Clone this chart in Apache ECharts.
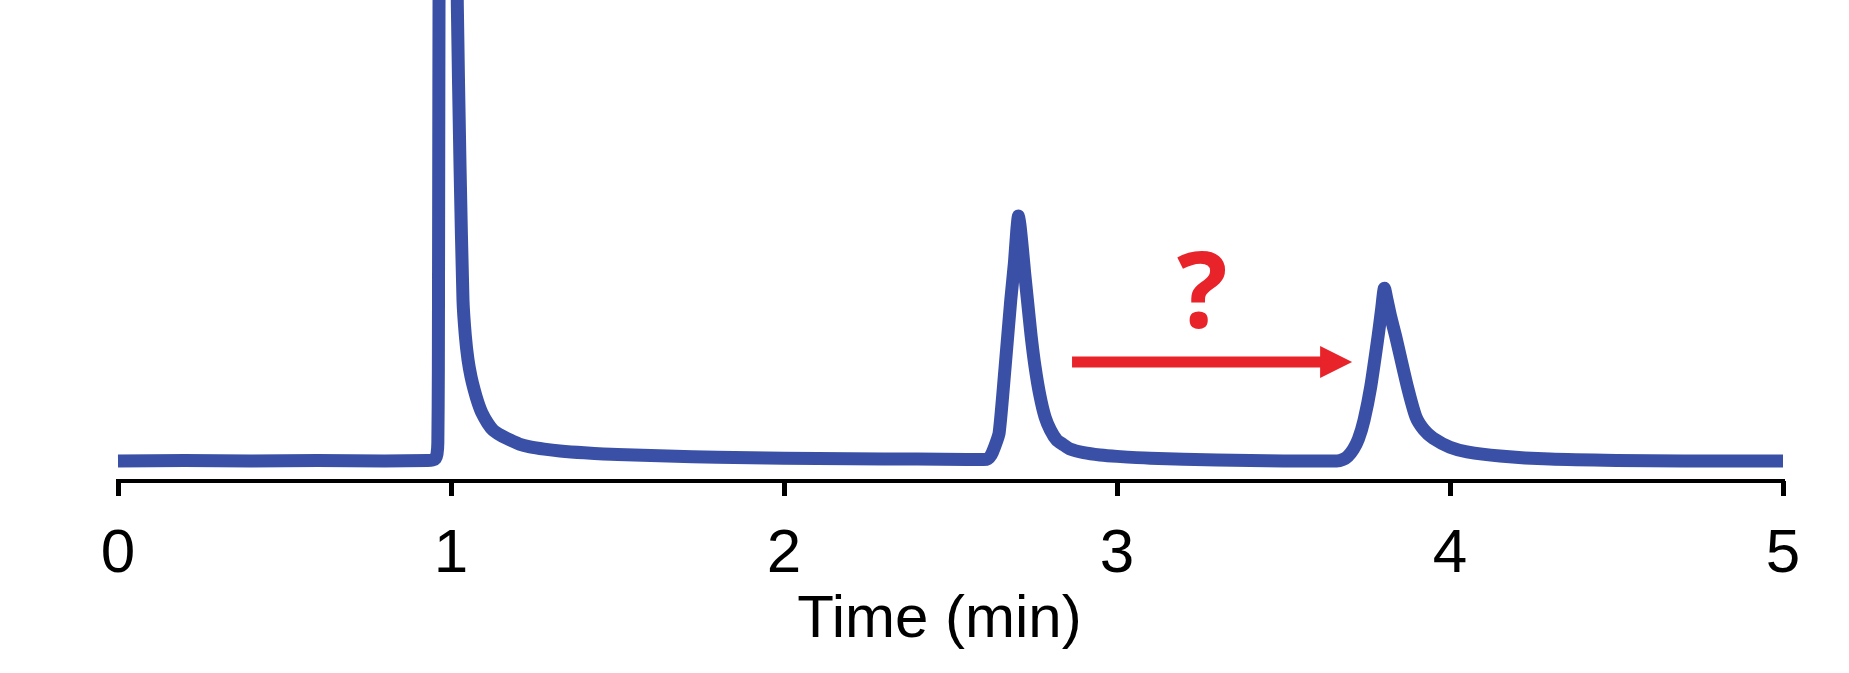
<!DOCTYPE html>
<html>
<head>
<meta charset="utf-8">
<script src="https://cdn.jsdelivr.net/npm/echarts@6/dist/echarts.min.js"></script>
<style>
html,body{margin:0;padding:0;background:#fff;}
#chart{width:1849px;height:673px;}
</style>
</head>
<body>
<div id="chart"></div>
<script>
// Retention time (min) and detector signal (arbitrary units)
var time = [0, 0.2, 0.4, 0.6, 0.8, 0.93, 0.945, 0.953, 0.958, 0.9605, 0.962, 0.963, 0.964, 0.966, 0.99, 1.015, 1.019, 1.027, 1.036, 1.043, 1.051, 1.06, 1.07, 1.081, 1.093, 1.11, 1.126, 1.15, 1.177, 1.205, 1.237, 1.28, 1.327, 1.4, 1.5, 1.65, 1.8, 2.0, 2.2, 2.4, 2.55, 2.60, 2.612, 2.622, 2.632, 2.646, 2.664, 2.681, 2.692, 2.699, 2.704, 2.709, 2.716, 2.723, 2.731, 2.742, 2.754, 2.768, 2.784, 2.80, 2.819, 2.838, 2.859, 2.9, 2.949, 3.0, 3.10, 3.3, 3.5, 3.66, 3.678, 3.693, 3.71, 3.725, 3.742, 3.762, 3.784, 3.795, 3.803, 3.811, 3.822, 3.837, 3.872, 3.898, 3.922, 3.949, 4.0, 4.051, 4.15, 4.30, 4.5, 4.7, 5.0];
var signal = [0.0, 0.1, 0.0, 0.1, 0.0, 0.1, 0.2, 0.5, 1.5, 4, 20, 60, 100, 140, 500, 140, 100, 65, 35.3, 27.5, 22.2, 18.5, 15.5, 12.8, 10.5, 8.3, 6.8, 5.6, 4.6, 3.7, 3.1, 2.6, 2.2, 1.8, 1.4, 1.1, 0.8, 0.6, 0.5, 0.4, 0.3, 0.3, 0.5, 1.3, 3.0, 6.1, 20.6, 35.3, 43.5, 50.5, 53.7, 51.5, 46.5, 41.0, 35.3, 27.5, 20.6, 14.5, 9.6, 6.8, 4.6, 3.6, 2.6, 1.8, 1.3, 1.0, 0.6, 0.2, 0.0, 0.0, 0.3, 1.0, 2.6, 4.8, 9.0, 16.3, 27.3, 33.5, 37.9, 35.3, 31.6, 27.3, 16.3, 9.6, 6.8, 5.0, 3.0, 2.0, 1.1, 0.4, 0.1, 0.0, 0.0];
var xTicks = [0, 1, 2, 3, 4, 5];
var xTitle = 'Time (min)';
// Annotation: arrow from peak at 2.7 min towards peak at 3.8 min, with a question mark
var arrowFrom = [2.865, 21.7];
var arrowTo = [3.706, 21.7];
var questionAt = [3.256, 35.7];
var questionText = '?';

var points = time.map(function (t, i) { return [t, signal[i]]; });
var chart = echarts.init(document.getElementById('chart'));
chart.setOption({
  animation: false,
  backgroundColor: '#ffffff',
  grid: { left: 118, right: 66, top: 5, bottom: 192 },
  xAxis: {
    type: 'value', min: xTicks[0], max: xTicks[xTicks.length - 1], interval: 1,
    axisLine: { show: true, onZero: false, lineStyle: { color: '#000', width: 4, cap: 'square' } },
    axisTick: { show: true, length: 15, lineStyle: { color: '#000', width: 5 } },
    splitLine: { show: false },
    axisLabel: { color: '#000', fontSize: 62, fontFamily: 'Liberation Sans, Arial, sans-serif', margin: 43 },
    name: xTitle, nameLocation: 'middle', nameGap: 101,
    nameTextStyle: { color: '#000', fontSize: 60, fontFamily: 'Liberation Sans, Arial, sans-serif', padding: [0, 22, 0, 0] }
  },
  yAxis: { type: 'value', min: -4.4, max: 100, show: false, splitLine: { show: false } },
  series: [{
    type: 'line', data: points, showSymbol: false, symbol: 'none', clip: true,
    smooth: 0.2,
    lineStyle: { color: '#3a50a6', width: 13, join: 'round', cap: 'butt' }
  }]
});

function drawAnnotations() {
  var a = chart.convertToPixel({ gridIndex: 0 }, arrowFrom);
  var b = chart.convertToPixel({ gridIndex: 0 }, arrowTo);
  var q = chart.convertToPixel({ gridIndex: 0 }, questionAt);
  var headLen = 32, headHalf = 16;
  chart.setOption({
    graphic: [
      { type: 'line', shape: { x1: a[0], y1: a[1], x2: b[0] - headLen + 1, y2: b[1] }, style: { stroke: '#e8232a', lineWidth: 11 } },
      { type: 'polygon', shape: { points: [[b[0] - headLen, b[1] - headHalf], [b[0], b[1]], [b[0] - headLen, b[1] + headHalf]] }, style: { fill: '#e8232a' } },
      { type: 'text', x: q[0], y: q[1], style: { text: questionText, fill: '#e8232a', font: 'bold 106px "Open Sans", sans-serif', textAlign: 'center', textVerticalAlign: 'middle' } }
    ]
  });
}
drawAnnotations();
</script>
</body>
</html>
